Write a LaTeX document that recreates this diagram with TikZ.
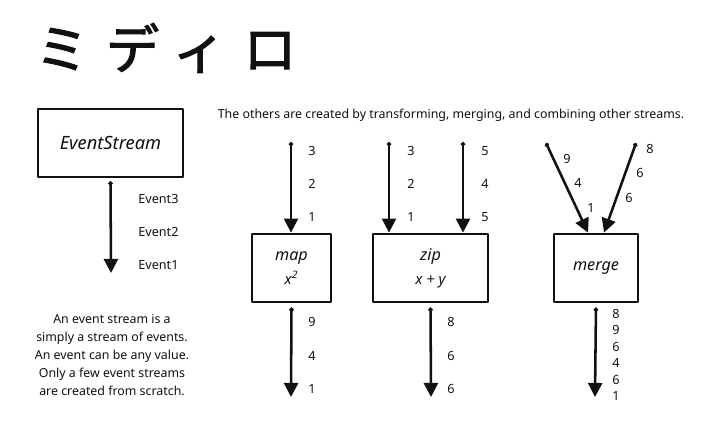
\documentclass[tikz,border=0pt]{standalone}
\usepackage{fontspec}
\setmainfont{Noto Sans}
\newfontfamily\jpfont[LetterSpace=32,FakeBold=2]{Noto Sans CJK JP}
\usetikzlibrary{arrows.meta,positioning,calc}
\definecolor{ink}{HTML}{111111}

\begin{document}
\begin{tikzpicture}[x=0.025cm, y=-0.025cm,
  box/.style={draw=ink, line width=2pt, line join=round, minimum height=1.7cm, align=center, text=ink, font=\itshape\fontsize{11.5}{13}\selectfont},
  flow/.style={draw=ink, line width=1.8pt, {Circle[length=3pt]}-{Triangle[width=10pt,length=10pt]}},
  val/.style={anchor=west, inner sep=0pt, text=ink, font=\fontsize{9}{10}\selectfont},
  note/.style={text=ink, font=\fontsize{8.8}{12.7}\selectfont}
]
  \useasboundingbox (0,0) rectangle (720,428);

  % title
  \node[text=ink, font=\jpfont\fontsize{38}{40}\selectfont] (title) at (166,48) {ミディロ};

  % the basic stream
  \node[box, font=\itshape\fontsize{13}{15}\selectfont, minimum width=3.625cm] (es) at (110.5,143) {EventStream};
  \coordinate (esout) at (111,273);
  \draw[flow, shorten <=2pt] (es.south) -- (esout);
  \foreach \v [count=\i] in {Event3,Event2,Event1}
    \node[val] (ev\i) at (138,{199+33*(\i-1)}) {\v};
  \node[note, align=center] (about) at (112,355) {An event stream is a\\simply a stream of events.\\An event can be any value.\\Only a few event streams\\are created from scratch.};

  \node[note] (others) at (451,115) {The others are created by transforming, merging, and combining other streams.};

  % map
  \node[box, minimum width=1.975cm] (map) at (291.5,268) {map\\[4pt]{\fontsize{10.5}{12}\selectfont x\textsuperscript{2}}};
  \coordinate (mapin) at (291,142);
  \coordinate (mapout) at (291,397);
  \draw[flow] (mapin) -- (mapin |- map.north);
  \draw[flow, shorten <=3pt] (map.south) -- (mapout);
  \foreach \v [count=\i] in {3,2,1}
    \node[val] (mi\i) at (308,{151+33*(\i-1)}) {\v};
  \foreach \v [count=\i] in {9,4,1}
    \node[val] (mo\i) at (308,{322+33.5*(\i-1)}) {\v};

  % zip
  \node[box, minimum width=2.875cm] (zip) at (430.5,268) {zip\\[4pt]{\fontsize{10.5}{12}\selectfont x + y}};
  \coordinate (zipa) at (389,142);
  \coordinate (zipb) at (463,142);
  \coordinate (zipout) at (431,397);
  \draw[flow] (zipa) -- (zipa |- zip.north);
  \draw[flow] (zipb) -- (zipb |- zip.north);
  \draw[flow, shorten <=3pt] (zip.south) -- (zipout);
  \foreach \v [count=\i] in {3,2,1}
    \node[val] (za\i) at (407,{151+33*(\i-1)}) {\v};
  \foreach \v [count=\i] in {5,4,5}
    \node[val] (zb\i) at (481,{151+33*(\i-1)}) {\v};
  \foreach \v [count=\i] in {8,6,6}
    \node[val] (zo\i) at (447,{322+33.5*(\i-1)}) {\v};

  % merge
  \node[box, minimum width=2.1cm] (merge) at (596,268) {merge};
  \coordinate (mergea) at (546,143);
  \coordinate (mergeb) at (636,143);
  \coordinate (mergeout) at (595,397);
  \draw[flow] (mergea) -- ($(merge.north)+(-8,0)$);
  \draw[flow] (mergeb) -- ($(merge.north)+(8,0)$);
  \draw[flow, shorten <=3pt] (merge.south) -- (mergeout);
  \node[val] (ma1) at (563,159) {9};
  \node[val] (ma2) at (574,183) {4};
  \node[val] (ma3) at (587,208) {1};
  \node[val] (mb1) at (646,149) {8};
  \node[val] (mb2) at (636,173) {6};
  \node[val] (mb3) at (625,198) {6};
  \foreach \v [count=\i] in {8,9,6,4,6,1}
    \node[val] (mg\i) at (612,{314+16.4*(\i-1)}) {\v};
\end{tikzpicture}
\end{document}
